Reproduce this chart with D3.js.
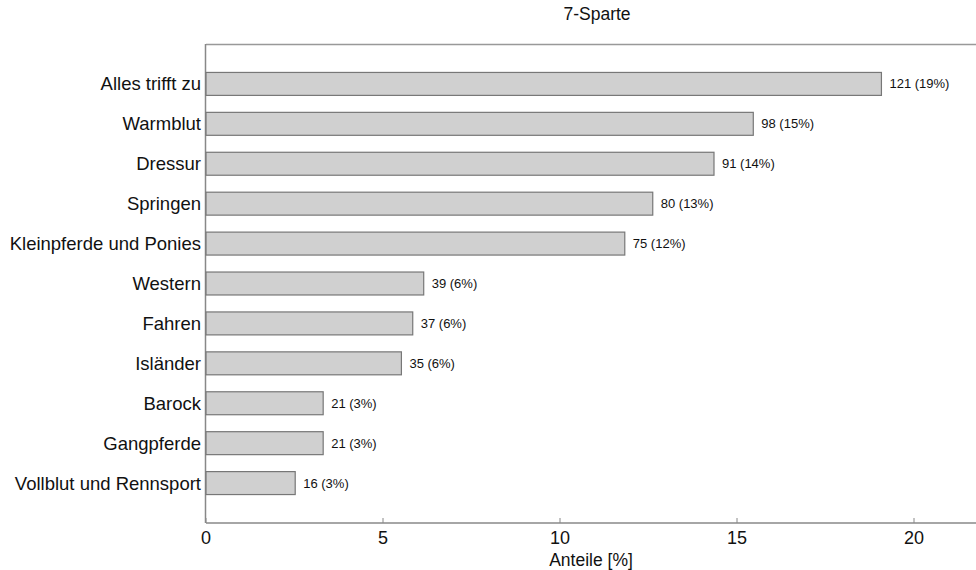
<!DOCTYPE html>
<html><head><meta charset="utf-8">
<script src="https://cdn.jsdelivr.net/npm/d3@7"></script>
<style>body{margin:0;background:#fff}svg{display:block}text{font-family:"Liberation Sans",Arial,sans-serif;fill:#111}</style>
</head><body><svg id="c" width="976" height="570"></svg>
<script>
const categories = ["Alles trifft zu","Warmblut","Dressur","Springen","Kleinpferde und Ponies","Western","Fahren","Isländer","Barock","Gangpferde","Vollblut und Rennsport"];
const percents = [19.08,15.46,14.35,12.62,11.83,6.15,5.84,5.52,3.31,3.31,2.52];
const counts = [121,98,91,80,75,39,37,35,21,21,16];
const pctLabels = ["19%","15%","14%","13%","12%","6%","6%","6%","3%","3%","3%"];
const xTicks = [0,5,10,15,20];
const title = "7-Sparte";
const xTitle = "Anteile [%]";

const svg = d3.select("#c");
const L = 206, R = 976, T = 44, B = 523;
const x = d3.scaleLinear().domain([0,20]).range([L, 914]);
const y = d3.scaleBand().domain(categories).range([T, B]).paddingInner(0.4).paddingOuter(0.7);

// frame lines
svg.append("line").attr("x1",L).attr("x2",R).attr("y1",T+0.5).attr("y2",T+0.5).attr("stroke","#999").attr("stroke-width",1.5);
svg.append("line").attr("x1",L-0.5).attr("x2",L-0.5).attr("y1",T).attr("y2",B).attr("stroke","#888").attr("stroke-width",1.5);
svg.append("line").attr("x1",L).attr("x2",R).attr("y1",B).attr("y2",B).attr("stroke","#888").attr("stroke-width",1.5);

// x axis ticks (inside)
const xa = svg.append("g");
xa.selectAll("line").data(xTicks).join("line")
  .attr("x1",d=>x(d)).attr("x2",d=>x(d)).attr("y1",B).attr("y2",B-5).attr("stroke","#888");
xa.selectAll("text").data(xTicks).join("text")
  .attr("x",d=>x(d)).attr("y",544).attr("text-anchor","middle").attr("font-size",18).text(d=>d);
svg.append("text").attr("x",(L+R)/2).attr("y",566).attr("text-anchor","middle").attr("font-size",17.5).text(xTitle);
svg.append("text").attr("x",597).attr("y",20).attr("text-anchor","middle").attr("font-size",17.5).text(title);

// y category labels
svg.selectAll("text.cat").data(categories).join("text").attr("class","cat")
  .attr("x",L-5).attr("y",d=>y(d)+y.bandwidth()/2).attr("dy","0.35em")
  .attr("text-anchor","end").attr("font-size",18.5).text(d=>d);

// bars
svg.selectAll("rect.bar").data(categories).join("rect").attr("class","bar")
  .attr("x",L).attr("y",(d)=>y(d)+0.5).attr("height",y.bandwidth()-1)
  .attr("width",(d,i)=>x(percents[i])-L)
  .attr("fill","#d0d0d0").attr("stroke","#777").attr("stroke-width",1.2);

// value labels
svg.selectAll("text.val").data(categories).join("text").attr("class","val")
  .attr("x",(d,i)=>x(percents[i])+8).attr("y",d=>y(d)+y.bandwidth()/2).attr("dy","0.35em")
  .attr("font-size",13).text((d,i)=>counts[i]+" ("+pctLabels[i]+")");
</script></body></html>
